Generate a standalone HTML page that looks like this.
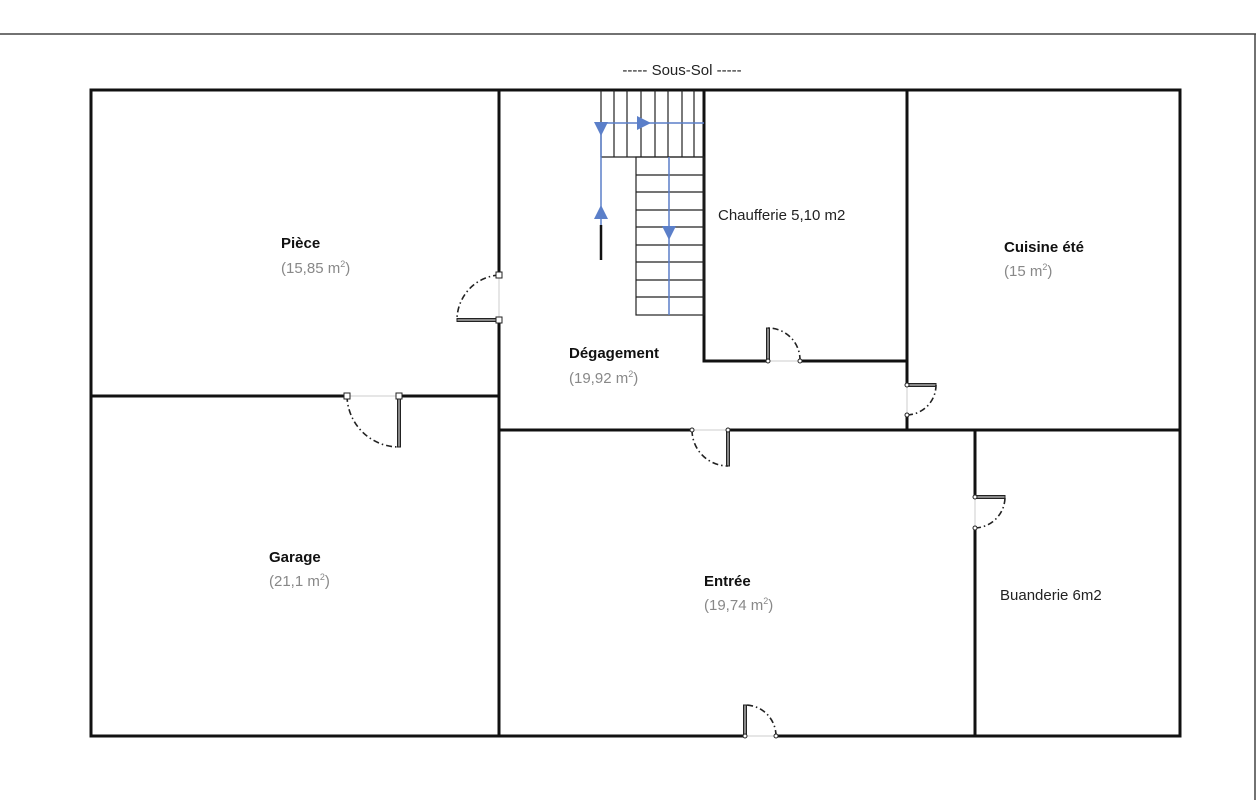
<!DOCTYPE html>
<html><head><meta charset="utf-8"><style>
html,body{margin:0;padding:0;background:#fff;width:1260px;height:800px;overflow:hidden}
svg{display:block}
text{font-family:"Liberation Sans",sans-serif;font-size:15px}
.b{font-weight:bold;fill:#111}
.g{fill:#888}
.n{fill:#222}
</style></head><body>
<svg width="1260" height="800" viewBox="0 0 1260 800">
<line x1="0" y1="34" x2="1256" y2="34" stroke="#444" stroke-width="1.5"/>
<line x1="1255" y1="34" x2="1255" y2="800" stroke="#444" stroke-width="1.5"/>
<text x="682" y="75" text-anchor="middle" class="n" font-size="14">-----  Sous-Sol  -----</text>
<g stroke="#111" stroke-width="3" fill="none" stroke-linecap="square">
<!-- outer -->
<rect x="91" y="90" width="1089" height="646"/>
<!-- x=499 -->
<line x1="499" y1="90" x2="499" y2="275"/>
<line x1="499" y1="320" x2="499" y2="736"/>
<!-- y=396 -->
<line x1="91" y1="396" x2="347" y2="396"/>
<line x1="399" y1="396" x2="499" y2="396"/>
<!-- y=430 -->
<line x1="499" y1="430" x2="692" y2="430"/>
<line x1="728" y1="430" x2="1180" y2="430"/>
<!-- x=907 -->
<line x1="907" y1="90" x2="907" y2="385"/>
<line x1="907" y1="415" x2="907" y2="430"/>
<!-- chaufferie -->
<line x1="704" y1="90" x2="704" y2="361"/>
<line x1="704" y1="361" x2="768" y2="361"/>
<line x1="800" y1="361" x2="907" y2="361"/>
<!-- x=975 -->
<line x1="975" y1="430" x2="975" y2="497"/>
<line x1="975" y1="528" x2="975" y2="736"/>
</g>
<!-- bottom door gap -->
<line x1="746" y1="736" x2="775" y2="736" stroke="#fff" stroke-width="4"/>
<!-- door gap thin lines -->
<g stroke="#ccc" stroke-width="1">
<line x1="499" y1="275" x2="499" y2="320"/>
<line x1="347" y1="396" x2="399" y2="396"/>
<line x1="768" y1="361" x2="800" y2="361"/>
<line x1="907" y1="385" x2="907" y2="415"/>
<line x1="692" y1="430" x2="728" y2="430"/>
<line x1="975" y1="497" x2="975" y2="528"/>
<line x1="745" y1="736" x2="776" y2="736"/>
</g>
<!-- door leaves -->
<g stroke="#222" stroke-width="1" fill="#888">
<rect x="457" y="318.5" width="42" height="3"/>
<rect x="397.5" y="396" width="3" height="51"/>
<rect x="766.5" y="328" width="3" height="33"/>
<rect x="907" y="383.5" width="29" height="3"/>
<rect x="726.5" y="430" width="3" height="36"/>
<rect x="975" y="495.5" width="30" height="3"/>
<rect x="743.5" y="705" width="3" height="31"/>
</g>
<!-- arcs -->
<g stroke="#222" stroke-width="1.6" fill="none" stroke-dasharray="6 3 1.5 3">
<path d="M499 275 A45 45 0 0 0 457 320"/>
<path d="M347 396 A52 52 0 0 0 399 447"/>
<path d="M800 361 A32 32 0 0 0 768 328"/>
<path d="M907 415 A30 30 0 0 0 936 385"/>
<path d="M692 430 A36 36 0 0 0 728 466"/>
<path d="M975 528 A31 31 0 0 0 1005 497"/>
<path d="M776 736 A31 31 0 0 0 745 705"/>
</g>
<!-- hinges -->
<g fill="#fff" stroke="#222" stroke-width="1">
<rect x="496" y="272" width="6" height="6"/>
<rect x="496" y="317" width="6" height="6"/>
<rect x="344" y="393" width="6" height="6"/>
<rect x="396" y="393" width="6" height="6"/>
<circle cx="768" cy="361" r="2"/><circle cx="800" cy="361" r="2"/>
<circle cx="907" cy="385" r="2"/><circle cx="907" cy="415" r="2"/>
<circle cx="692" cy="430" r="2"/><circle cx="728" cy="430" r="2"/>
<circle cx="975" cy="497" r="2"/><circle cx="975" cy="528" r="2"/>
<circle cx="745" cy="736" r="2"/><circle cx="776" cy="736" r="2"/>
</g>
<!-- stairs -->
<g stroke="#222" stroke-width="1.2" fill="none">
<line x1="601" y1="90" x2="601" y2="157"/>
<line x1="614" y1="90" x2="614" y2="157"/>
<line x1="627" y1="90" x2="627" y2="157"/>
<line x1="641" y1="90" x2="641" y2="157"/>
<line x1="655" y1="90" x2="655" y2="157"/>
<line x1="668" y1="90" x2="668" y2="157"/>
<line x1="682" y1="90" x2="682" y2="157"/>
<line x1="694" y1="90" x2="694" y2="157"/>
<line x1="601" y1="157" x2="704" y2="157"/>
<rect x="636" y="157" width="68" height="158"/>
<line x1="636" y1="175" x2="704" y2="175"/>
<line x1="636" y1="192" x2="704" y2="192"/>
<line x1="636" y1="210" x2="704" y2="210"/>
<line x1="636" y1="227" x2="704" y2="227"/>
<line x1="636" y1="245" x2="704" y2="245"/>
<line x1="636" y1="262" x2="704" y2="262"/>
<line x1="636" y1="280" x2="704" y2="280"/>
<line x1="636" y1="297" x2="704" y2="297"/>
</g>
<line x1="601" y1="225" x2="601" y2="260" stroke="#111" stroke-width="2.5"/>
<g stroke="#5b7fc9" stroke-width="1.5" fill="none">
<line x1="601" y1="123" x2="601" y2="225"/>
<line x1="601" y1="123" x2="704" y2="123"/>
<line x1="669" y1="157" x2="669" y2="315"/>
</g>
<g fill="#5b7fc9">
<polygon points="594,122 608,122 601,136"/>
<polygon points="594,219 608,219 601,205"/>
<polygon points="637,116 637,130 651,123"/>
<polygon points="662,226 676,226 669,240"/>
</g>
<!-- labels -->
<text x="281" y="248" class="b">Pièce</text>
<text x="281" y="273" class="g">(15,85 m<tspan font-size="9" dy="-6">2</tspan><tspan dy="6">)</tspan></text>
<text x="1004" y="252" class="b">Cuisine été</text>
<text x="1004" y="276" class="g">(15 m<tspan font-size="9" dy="-6">2</tspan><tspan dy="6">)</tspan></text>
<text x="569" y="358" class="b">Dégagement</text>
<text x="569" y="383" class="g">(19,92 m<tspan font-size="9" dy="-6">2</tspan><tspan dy="6">)</tspan></text>
<text x="718" y="220" class="n">Chaufferie 5,10 m2</text>
<text x="269" y="562" class="b">Garage</text>
<text x="269" y="586" class="g">(21,1 m<tspan font-size="9" dy="-6">2</tspan><tspan dy="6">)</tspan></text>
<text x="704" y="586" class="b">Entrée</text>
<text x="704" y="610" class="g">(19,74 m<tspan font-size="9" dy="-6">2</tspan><tspan dy="6">)</tspan></text>
<text x="1000" y="600" class="n">Buanderie 6m2</text>
</svg>
</body></html>
